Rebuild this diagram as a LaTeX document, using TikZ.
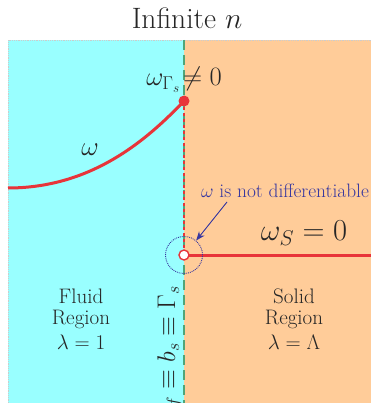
\documentclass[tikz,border=0pt]{standalone}
\usepackage{fix-cm}
\usetikzlibrary{arrows.meta}
\definecolor{fluidc}{RGB}{153,255,255}
\definecolor{solidc}{RGB}{255,204,153}
\definecolor{curvec}{RGB}{232,52,58}
\definecolor{ifacec}{RGB}{80,165,120}
\definecolor{notec}{RGB}{55,55,160}
\begin{document}
\begin{tikzpicture}[x=1pt,y=-1pt,
  lbl/.style={inner sep=0pt,text=black!85},
  region/.style={lbl,align=center,font=\fontsize{21}{21}\selectfont},
  redline/.style={draw=curvec,line width=3pt},
  note/.style={text=notec,inner sep=0pt,font=\fontsize{19.4}{21}\selectfont}]
\useasboundingbox (0,0) rectangle (371,403);
% regions
\fill[fluidc] (8,40) rectangle (184,403);
\fill[solidc] (184,40) rectangle (371,403);
\draw[black!20,densely dotted,line width=0.8pt] (8,403) -- (8,40) -- (371,40);
% interface
\coordinate (itop) at (184,40);
\coordinate (ibot) at (184,403);
\draw[ifacec,line width=1.8pt,dash pattern=on 10pt off 5pt] (itop) -- (ibot);
% key points
\coordinate (P) at (184,101);
\coordinate (Q) at (184,255);
\coordinate (L) at (8,188);
\coordinate (R) at (371,255);
\draw[curvec,line width=2.2pt,dash pattern=on 3pt off 3pt] (P) -- (Q);
\draw[redline] (L) .. controls (90,188) and (145,142) .. (P);
\draw[redline] (Q) -- (R);
\fill[curvec] (P) circle (5.5);
\node[circle,draw=curvec,fill=white,line width=1.4pt,minimum size=10pt,inner sep=0pt] (open) at (Q) {};
\node[circle,draw=notec,densely dotted,line width=0.9pt,minimum size=37pt,inner sep=0pt] (ring) at (184,255) {};
% texts
\node[lbl,font=\fontsize{29.5}{31}\selectfont] (title) at (187,18) {Infinite $n$};
\node[lbl,font=\fontsize{26.5}{28}\selectfont] (wg) at (184,80) {$\omega_{\Gamma_s}\!\neq 0$};
\node[lbl,font=\fontsize{27}{28}\selectfont] (w) at (90,150) {$\omega$};
\node[lbl,font=\fontsize{30.5}{32}\selectfont] (ws) at (304,233) {$\omega_S = 0$};
\node[note] (nd) at (285,191) {$\omega$ is not differentiable};
\draw[notec,line width=0.9pt,-{Stealth[length=9pt,width=7pt]}] (227,202) -- (ring.50);
\node[region] (fluid) at (81,319) {Fluid\\Region\\[4pt]$\lambda=1$};
\node[region] (solid) at (294,319) {Solid\\Region\\[4pt]$\lambda=\Lambda$};
\node[lbl,rotate=90,font=\fontsize{25.5}{27}\selectfont] (bl) at (170,352) {$b_f\equiv b_s\equiv \Gamma_s$};
\end{tikzpicture}
\end{document}
